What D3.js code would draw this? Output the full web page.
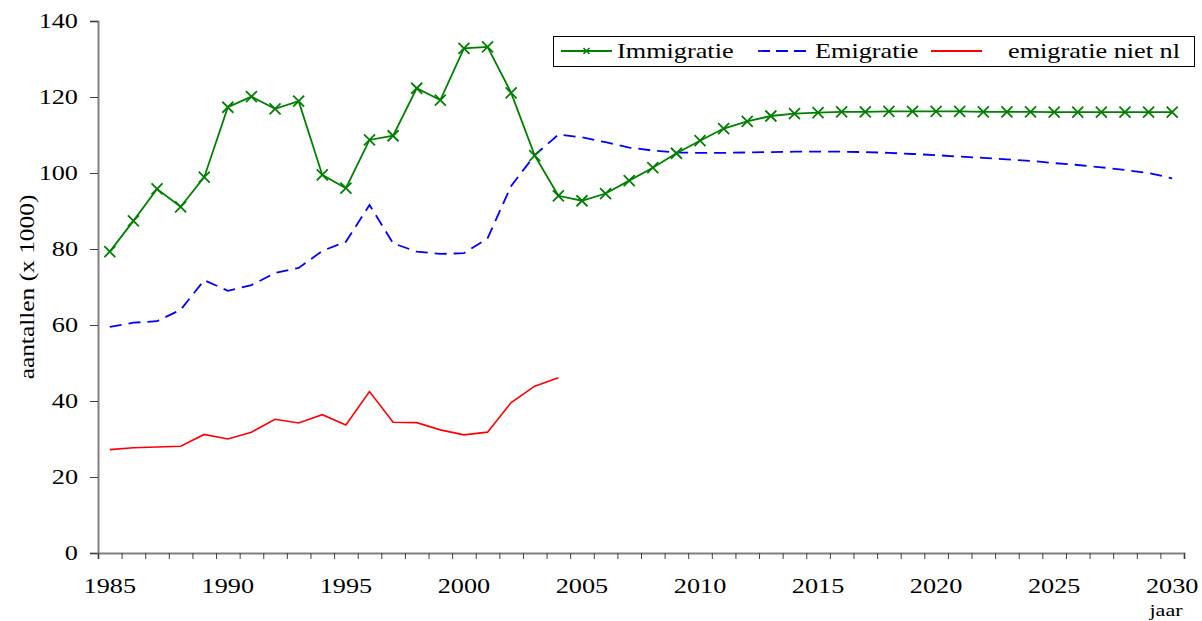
<!DOCTYPE html>
<html>
<head>
<meta charset="utf-8">
<script src="https://cdn.jsdelivr.net/npm/d3@7"></script>
<style>
  body { margin: 0; background: #fff; }
  svg, svg text { font-family: "Liberation Serif", "Times New Roman", serif; }
</style>
</head>
<body>
<script>
var width = 1202;
var height = 621;

// data (x 1000)
var years = d3.range(1985, 2031);
var labelYears = [1985, 1990, 1995, 2000, 2005, 2010, 2015, 2020, 2025, 2030];
var yTicks = [0, 20, 40, 60, 80, 100, 120, 140];

var immigratie = [79.3, 87.4, 95.8, 91.1, 98.9, 117.3, 120.1, 116.9, 118.9, 99.5,
                  96.0, 108.7, 109.8, 122.3, 119.2, 132.8, 133.2, 121.1, 104.6, 94.0,
                  92.7, 94.6, 98.0, 101.4, 105.2, 108.5, 111.7, 113.6, 115.0, 115.6,
                  115.9, 116.1, 116.1, 116.2, 116.2, 116.2, 116.2, 116.1, 116.1, 116.1,
                  116.0, 116.0, 116.0, 116.0, 116.0, 116.0];
var emigratie = [59.5, 60.6, 61.0, 64.0, 71.8, 69.0, 70.5, 73.7, 75.0, 79.5,
                 81.9, 91.6, 81.5, 79.3, 78.7, 78.9, 82.8, 96.6, 104.7, 110.1,
                 109.4, 108.1, 106.7, 105.9, 105.4, 105.3, 105.3, 105.4, 105.5, 105.6,
                 105.6, 105.6, 105.5, 105.3, 105.0, 104.7, 104.3, 104.0, 103.6, 103.2,
                 102.6, 102.1, 101.5, 100.8, 100.0, 98.6];
var emigratieNietNl = [27.2, 27.7, 27.9, 28.1, 31.2, 30.0, 31.8, 35.2, 34.2, 36.4,
                       33.7, 42.5, 34.4, 34.3, 32.4, 31.1, 31.8, 39.6, 43.9, 46.1];

var serif = "'Liberation Serif', 'Times New Roman', serif";
var stretch = 1.25; // the reference text is drawn wider than normal

var svg = d3.select("body").append("svg")
    .attr("width", width)
    .attr("height", height);

var plotLeft = 98, plotRight = 1184, plotTop = 21, plotBottom = 553;

var x = d3.scaleBand().domain(years).range([plotLeft, plotRight]).padding(0);
var xEdge = d3.scaleLinear().domain([1985, 2031]).range([plotLeft, plotRight]);
var y = d3.scaleLinear().domain([0, 140]).range([plotBottom, plotTop]);

var cx = function (d, i) { return x(years[i]) + x.bandwidth() / 2; };

// axes
var yAxis = svg.append("g")
    .attr("transform", "translate(" + plotLeft + ",0)")
    .call(d3.axisLeft(y).tickValues(yTicks).tickSize(8).tickPadding(12));
yAxis.selectAll(".tick text")
    .attr("x", -20 / stretch)
    .attr("transform", "scale(" + stretch + ",1)");

var xTicks = svg.append("g")
    .attr("transform", "translate(0," + plotBottom + ")")
    .call(d3.axisBottom(xEdge).tickValues(d3.range(1985, 2032)).tickFormat("").tickSize(6));

var xLabels = svg.append("g")
    .attr("transform", "translate(0," + plotBottom + ")")
    .call(d3.axisBottom(x).tickValues(labelYears).tickSize(0).tickPadding(25));
xLabels.select(".domain").remove();
xLabels.selectAll(".tick text")
    .attr("transform", "scale(" + stretch + ",1)");

svg.selectAll("g").attr("font-family", null).attr("font-size", null);
svg.selectAll(".tick text")
    .style("font-family", serif)
    .style("font-size", "21px")
    .attr("fill", "#000");
svg.selectAll(".domain").attr("stroke", "#808080").attr("stroke-width", 2);
svg.selectAll(".tick line").attr("stroke", "#404040");

svg.append("text")
    .attr("transform", "translate(34,287) rotate(-90) scale(1.21,1)")
    .attr("text-anchor", "middle")
    .style("font-family", serif)
    .style("font-size", "21px")
    .text("aantallen (x 1000)");

svg.append("text")
    .attr("transform", "translate(1166,616) scale(1.3,1)")
    .attr("text-anchor", "middle")
    .style("font-family", serif)
    .style("font-size", "17px")
    .text("jaar");

// lines
var line = d3.line().x(cx).y(function (d) { return y(d); });

svg.append("path").datum(emigratieNietNl)
    .attr("d", line).attr("fill", "none")
    .attr("stroke", "#ff0000").attr("stroke-width", 1.6);

svg.append("path").datum(emigratie)
    .attr("d", line).attr("fill", "none")
    .attr("stroke", "#0000ff").attr("stroke-width", 1.8)
    .attr("stroke-dasharray", "12,7");

svg.append("path").datum(immigratie)
    .attr("d", line).attr("fill", "none")
    .attr("stroke", "#008000").attr("stroke-width", 1.8);

var s = 5.5;
svg.selectAll(".mark")
    .data(immigratie)
  .enter().append("path")
    .attr("class", "mark")
    .attr("d", function (d, i) {
      var px = cx(d, i), py = y(d);
      return "M" + (px - s) + "," + (py - s) + "L" + (px + s) + "," + (py + s) +
             "M" + (px - s) + "," + (py + s) + "L" + (px + s) + "," + (py - s);
    })
    .attr("stroke", "#008000").attr("stroke-width", 1.8).attr("fill", "none");

// legend
var legend = svg.append("g");
legend.append("rect")
    .attr("x", 553.5).attr("y", 36.5).attr("width", 641).attr("height", 30)
    .attr("fill", "#fff").attr("stroke", "#000").attr("stroke-width", 1);

var items = [
  { name: "Immigratie", color: "#008000", dash: null, mark: true, x1: 561, x2: 612, tx: 617 },
  { name: "Emigratie", color: "#0000ff", dash: "12,6", mark: false, x1: 758, x2: 808, tx: 815 },
  { name: "emigratie niet nl", color: "#ff0000", dash: null, mark: false, x1: 931, x2: 982, tx: 1008 }
];
items.forEach(function (it) {
  legend.append("line")
    .attr("x1", it.x1).attr("x2", it.x2).attr("y1", 51).attr("y2", 51)
    .attr("stroke", it.color).attr("stroke-width", 1.8)
    .attr("stroke-dasharray", it.dash);
  if (it.mark) {
    var mx = (it.x1 + it.x2) / 2, m = 3;
    legend.append("path")
      .attr("d", "M" + (mx - m) + "," + (51 - m) + "L" + (mx + m) + "," + (51 + m) +
                 "M" + (mx - m) + "," + (51 + m) + "L" + (mx + m) + "," + (51 - m))
      .attr("stroke", it.color).attr("stroke-width", 1.6);
  }
  legend.append("text")
    .attr("transform", "translate(" + it.tx + ",58) scale(" + stretch + ",1)")
    .style("font-family", serif)
    .style("font-size", "21px")
    .text(it.name);
});
</script>
</body>
</html>
